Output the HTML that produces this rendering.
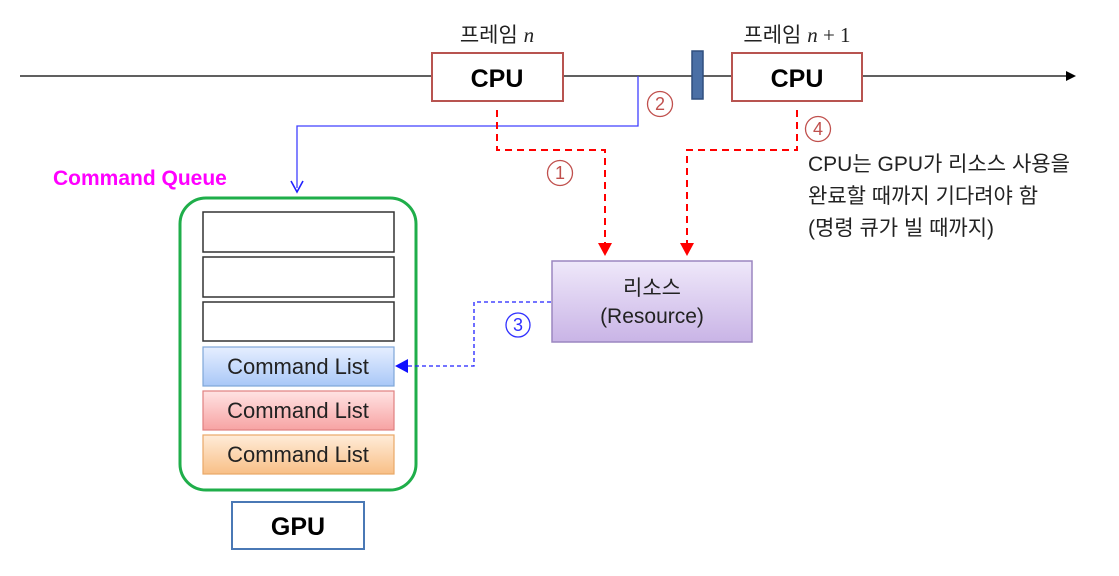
<!DOCTYPE html>
<html><head><meta charset="utf-8"><style>
body{margin:0;background:#fff;}
text{font-family:"Liberation Sans","Noto Sans CJK KR",sans-serif;}
</style></head><body>
<svg width="1119" height="571" xmlns="http://www.w3.org/2000/svg">
<defs>
<linearGradient id="gb" x1="0" y1="0" x2="0" y2="1"><stop offset="0" stop-color="#e6efff"/><stop offset="1" stop-color="#a9c8f7"/></linearGradient>
<linearGradient id="gr" x1="0" y1="0" x2="0" y2="1"><stop offset="0" stop-color="#ffe3e3"/><stop offset="1" stop-color="#f7a3a3"/></linearGradient>
<linearGradient id="go" x1="0" y1="0" x2="0" y2="1"><stop offset="0" stop-color="#ffecd9"/><stop offset="1" stop-color="#f8bf86"/></linearGradient>
<linearGradient id="gp" x1="0" y1="0" x2="0" y2="1"><stop offset="0" stop-color="#efe8fa"/><stop offset="1" stop-color="#c9b4e6"/></linearGradient>
</defs>
<line x1="20" y1="76" x2="1068" y2="76" stroke="#000" stroke-width="1.2"/>
<polygon points="1076,76 1066,71 1066,81" fill="#000"/>
<text x="497" y="42" font-size="21" text-anchor="middle" fill="#222">프레임 <tspan font-family="Liberation Serif" font-style="italic">n</tspan></text>
<text x="797" y="42" font-size="21" text-anchor="middle" fill="#222">프레임 <tspan font-family="Liberation Serif" font-style="italic">n</tspan><tspan font-family="Liberation Serif"> + 1</tspan></text>
<rect x="432" y="53" width="131" height="48" fill="#fff" stroke="#b85450" stroke-width="2"/>
<text x="497" y="87" font-size="25" font-weight="bold" text-anchor="middle">CPU</text>
<rect x="732" y="53" width="130" height="48" fill="#fff" stroke="#b85450" stroke-width="2"/>
<text x="797" y="87" font-size="25" font-weight="bold" text-anchor="middle">CPU</text>
<rect x="692" y="51" width="11" height="48" fill="#4a6fa5" stroke="#2f4f7f" stroke-width="1.5"/>
<polyline points="638,76 638,126 297,126 297,188" fill="none" stroke="#4040ff" stroke-width="1.3"/>
<polyline points="291,181 297,192 303,181" fill="none" stroke="#2020ff" stroke-width="1.6"/>
<polyline points="497,110 497,150 605,150 605,245" fill="none" stroke="#f00" stroke-width="2" stroke-dasharray="7,5"/>
<polygon points="598,243 612,243 605,256" fill="#f00"/>
<polyline points="797,110 797,150 687,150 687,245" fill="none" stroke="#f00" stroke-width="2" stroke-dasharray="7,5"/>
<polygon points="680,243 694,243 687,256" fill="#f00"/>
<g fill="none" stroke="#c0504d" stroke-width="1.3">
<circle cx="560" cy="173" r="12.5"/><circle cx="660" cy="104" r="12.5"/><circle cx="818" cy="129" r="12.5"/></g>
<g font-size="18" fill="#c0504d" text-anchor="middle"><text x="560" y="179">1</text><text x="660" y="110">2</text><text x="818" y="135">4</text></g>
<circle cx="518" cy="325" r="12" fill="none" stroke="#3030ff" stroke-width="1.3"/>
<text x="518" y="331" font-size="18" fill="#3030ff" text-anchor="middle">3</text>
<text font-size="21" fill="#222"><tspan x="808" y="171">CPU는 GPU가 리소스 사용을</tspan><tspan x="808" y="203">완료할 때까지 기다려야 함</tspan><tspan x="808" y="235">(명령 큐가 빌 때까지)</tspan></text>
<rect x="552" y="261" width="200" height="81" fill="url(#gp)" stroke="#9b86c0" stroke-width="1.5"/>
<text x="652" y="295" font-size="21" text-anchor="middle" fill="#222">리소스</text>
<text x="652" y="323" font-size="21" text-anchor="middle" fill="#222" font-family="Liberation Serif">(Resource)</text>
<text x="53" y="185" font-size="21" font-weight="bold" fill="#f0f">Command Queue</text>
<rect x="180" y="198" width="236" height="292" rx="26" fill="#fff" stroke="#1fae4a" stroke-width="3"/>
<g stroke="#333" stroke-width="1.5" fill="#fff">
<rect x="203" y="212" width="191" height="40"/><rect x="203" y="257" width="191" height="40"/><rect x="203" y="302" width="191" height="39"/></g>
<rect x="203" y="347" width="191" height="39" fill="url(#gb)" stroke="#7ea6d8" stroke-width="1.2"/>
<rect x="203" y="391" width="191" height="39" fill="url(#gr)" stroke="#e08080" stroke-width="1.2"/>
<rect x="203" y="435" width="191" height="39" fill="url(#go)" stroke="#e8a868" stroke-width="1.2"/>
<g font-size="22" text-anchor="middle" fill="#222"><text x="298" y="374">Command List</text><text x="298" y="418">Command List</text><text x="298" y="462">Command List</text></g>
<polyline points="551,302 474,302 474,366 406,366" fill="none" stroke="#2020ff" stroke-width="1.3" stroke-dasharray="4,3"/>
<polygon points="395,366 408,359 408,373" fill="#1010ff"/>
<rect x="232" y="502" width="132" height="47" fill="#fff" stroke="#4a78b5" stroke-width="2"/>
<text x="298" y="535" font-size="25" font-weight="bold" text-anchor="middle">GPU</text>
</svg>
</body></html>
